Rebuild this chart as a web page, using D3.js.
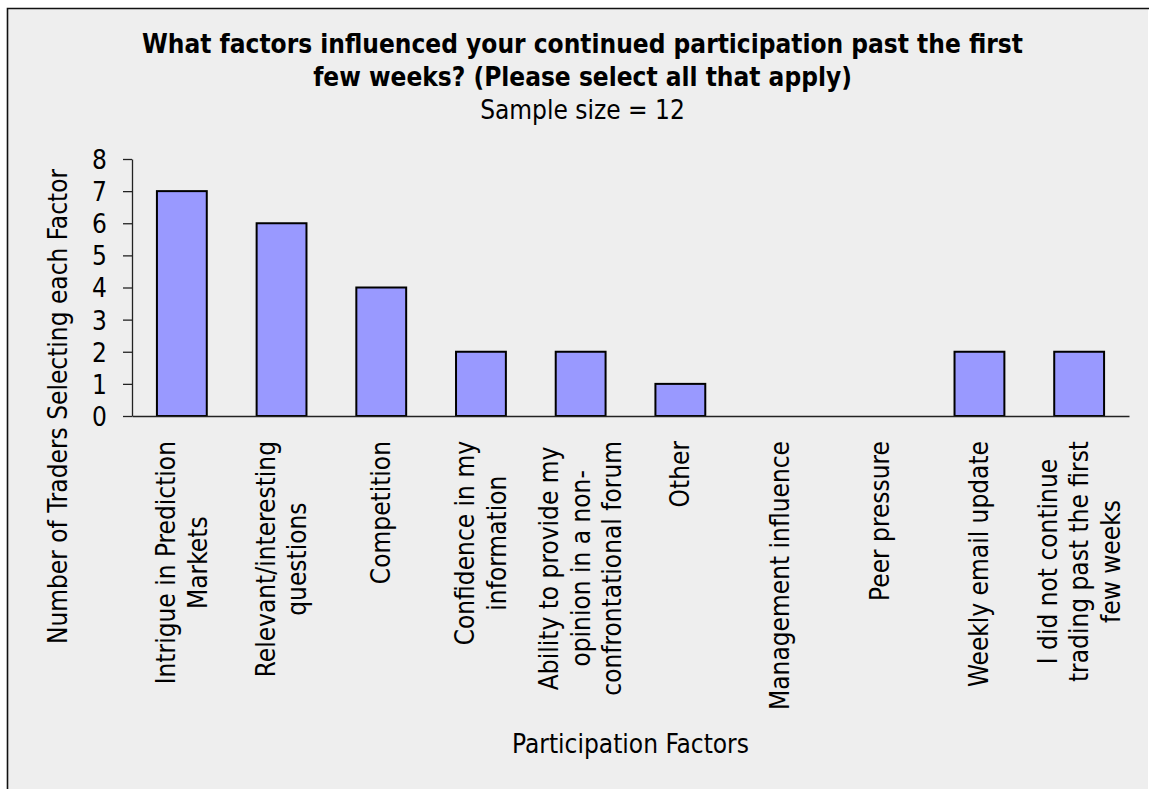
<!DOCTYPE html>
<html>
<head>
<meta charset="utf-8">
<script src="https://cdn.jsdelivr.net/npm/d3@7"></script>
<style>
  body { margin: 0; background: #ffffff; }
  svg text { font-family: "DejaVu Sans Condensed", "DejaVu Sans", sans-serif; fill: #000; }
</style>
</head>
<body>
<svg id="chart" width="1151" height="789"></svg>
<script>
// Survey answers: how many traders chose each factor
const categories = [
  ["Intrigue in Prediction", "Markets"],
  ["Relevant/interesting", "questions"],
  ["Competition"],
  ["Confidence in my", "information"],
  ["Ability to provide my", "opinion in a non-", "confrontational forum"],
  ["Other"],
  ["Management influence"],
  ["Peer pressure"],
  ["Weekly email update"],
  ["I did not continue", "trading past the first", "few weeks"]
];
const counts = [7, 6, 4, 2, 2, 1, 0, 0, 2, 2];
const yTicks = [0, 1, 2, 3, 4, 5, 6, 7, 8];
const titleLines = [
  "What factors influenced your continued participation past the first",
  "few weeks? (Please select all that apply)"
];
const subtitle = "Sample size = 12";
const xTitle = "Participation Factors";
const yTitle = "Number of Traders Selecting each Factor";

const svg = d3.select("#chart");
const FONT = 26;

// Chart area panel
svg.append("rect")
  .attr("x", 7).attr("y", 8)
  .attr("width", 1141).attr("height", 790)
  .attr("fill", "#eeeeee");
svg.append("path")
  .attr("d", "M7.5,800 V8.5 H1149")
  .attr("fill", "none").attr("stroke", "#111").attr("stroke-width", 1.6);

const plot = { left: 132, right: 1129, top: 159, bottom: 416 };

const keys = categories.map(d => d.join(" "));
const x = d3.scaleBand()
  .domain(keys)
  .range([plot.left, plot.right])
  .paddingInner(0.5)
  .paddingOuter(0.25);

const y = d3.scaleLinear()
  .domain([0, 8])
  .range([plot.bottom, plot.top]);

// Bars
svg.append("g")
  .selectAll("rect")
  .data(counts.map((v, i) => ({ key: keys[i], v })))
  .join("rect")
  .attr("x", d => x(d.key))
  .attr("y", d => y(d.v))
  .attr("width", x.bandwidth())
  .attr("height", d => y(0) - y(d.v))
  .attr("fill", "#9999ff")
  .attr("stroke", "#000")
  .attr("stroke-width", 2);

// Y axis
const yAxis = svg.append("g")
  .attr("transform", `translate(${plot.left},0)`)
  .call(d3.axisLeft(y).tickValues(yTicks).tickFormat(d3.format("d"))
    .tickSize(9).tickSizeOuter(0).tickPadding(16));
yAxis.select(".domain").attr("stroke", "#222").attr("stroke-width", 1.3);
yAxis.selectAll(".tick line").attr("stroke", "#222").attr("stroke-width", 1.3);
yAxis.selectAll(".tick text")
  .style("font-size", FONT + "px")
  .attr("dy", "0.36em");

// X axis (line only, labels drawn below)
const xAxis = svg.append("g")
  .attr("transform", `translate(0,${plot.bottom})`)
  .call(d3.axisBottom(x).tickSize(0).tickSizeOuter(0).tickFormat(""));
xAxis.select(".domain").attr("stroke", "#222").attr("stroke-width", 1.3);

// Rotated, multi-line category labels, block centred on each bar
const pitch = 31.6;
const capShift = 9;
const labelTop = 441;
const labelG = svg.append("g");
categories.forEach((lines, i) => {
  const cx = x(keys[i]) + x.bandwidth() / 2;
  const tmp = lines.map(t => labelG.append("text").style("font-size", FONT + "px").text(t));
  const maxLen = d3.max(tmp, t => t.node().getComputedTextLength());
  const cy = labelTop + maxLen / 2;
  tmp.forEach((t, j) => {
    const bx = cx + (j - (lines.length - 1) / 2) * pitch + capShift;
    t.attr("text-anchor", "middle")
     .attr("transform", `translate(${bx},${cy}) rotate(-90)`);
  });
});

// Titles
const tcx = 582.5;
svg.append("text")
  .attr("x", tcx).attr("y", 53)
  .attr("text-anchor", "middle")
  .style("font-size", FONT + "px").style("font-weight", "bold")
  .text(titleLines[0]);
svg.append("text")
  .attr("x", tcx).attr("y", 86)
  .attr("text-anchor", "middle")
  .style("font-size", FONT + "px").style("font-weight", "bold")
  .text(titleLines[1]);
svg.append("text")
  .attr("x", tcx).attr("y", 119)
  .attr("text-anchor", "middle")
  .style("font-size", FONT + "px")
  .text(subtitle);

// Axis titles
svg.append("text")
  .attr("x", (plot.left + plot.right) / 2).attr("y", 753)
  .attr("text-anchor", "middle")
  .style("font-size", FONT + "px")
  .text(xTitle);
svg.append("text")
  .attr("transform", `translate(67,${406.5}) rotate(-90)`)
  .attr("text-anchor", "middle")
  .style("font-size", FONT + "px")
  .text(yTitle);
</script>
</body>
</html>
